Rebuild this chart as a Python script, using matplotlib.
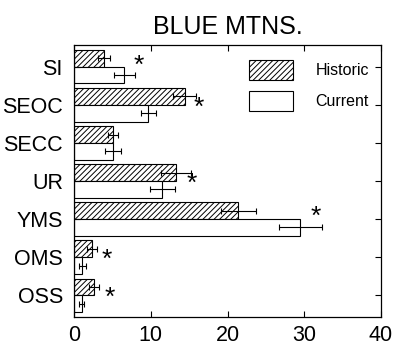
import numpy as np
import matplotlib
matplotlib.use("Agg")
import matplotlib.pyplot as plt

plt.rcParams['font.family'] = ['Liberation Sans', 'DejaVu Sans']
plt.rcParams['hatch.linewidth'] = 0.7

# data
sites = ["SI", "SEOC", "SECC", "UR", "YMS", "OMS", "OSS"]
historic = [3.95, 14.4, 5.1, 13.3, 21.4, 2.3, 2.65]
historic_err = [0.8, 1.5, 0.65, 1.9, 2.3, 0.65, 0.65]
current = [6.55, 9.7, 5.1, 11.5, 29.5, 1.1, 1.0]
current_err = [1.4, 1.0, 1.05, 1.6, 2.75, 0.4, 0.35]
star_x = [8.5, 16.3, None, 15.4, 31.5, 4.3, 4.7]
star_dy = [-0.1, 0.0, 0.0, 0.0, -0.13, 0.0, 0.0]

fig = plt.figure(figsize=(3.95, 3.46), dpi=100)
ax = fig.add_axes([74/395, 1-317/346, 307/395, 272/346])

y = np.arange(len(sites))
h = 0.44
err_kw = dict(ecolor='black', elinewidth=0.8, capsize=2, capthick=0.8)

ax.barh(y - h/2, historic, height=h, xerr=historic_err, color='white',
        edgecolor='black', linewidth=0.8, hatch='//////', label='Historic',
        error_kw=err_kw)
ax.barh(y + h/2, current, height=h, xerr=current_err, color='white',
        edgecolor='black', linewidth=0.8, label='Current', error_kw=err_kw)

for yi, sx, dy in zip(y, star_x, star_dy):
    if sx is not None:
        ax.text(sx, yi + dy + 0.08, '*', fontsize=19, ha='center', va='center')

ax.set_xlim(0, 40)
ax.set_ylim(len(sites) - 0.43, -0.57)
ax.set_xticks([0, 10, 20, 30, 40])
ax.set_yticks(y)
ax.set_yticklabels(sites)
ax.tick_params(direction='in', top=True, right=True, length=4, width=0.8,
               labelsize=15.5)
ax.tick_params(axis='y', pad=8)
ax.tick_params(axis='x', pad=6)
for s in ax.spines.values():
    s.set_linewidth(0.9)

ax.set_title("BLUE MTNS.", fontsize=18, pad=8)

ax.legend(loc='upper left', bbox_to_anchor=(0.570, 0.945), frameon=False,
          fontsize=11.5, handlelength=2.75, handleheight=1.55,
          handletextpad=1.4, labelspacing=0.7, borderpad=0, borderaxespad=0)

fig.savefig("out.png", dpi=100)
